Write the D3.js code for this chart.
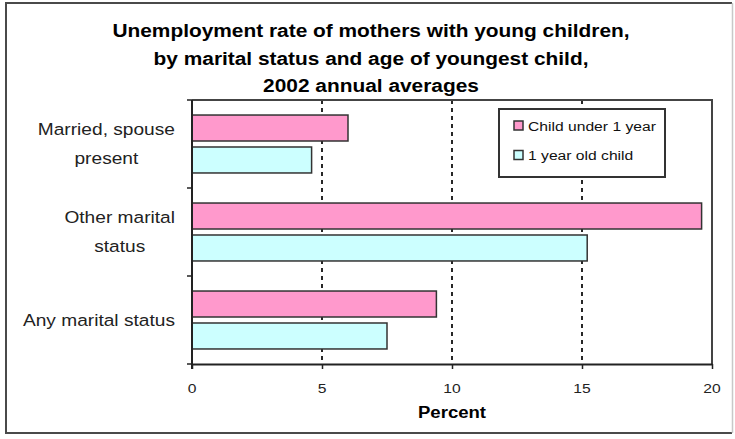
<!DOCTYPE html>
<html>
<head>
<meta charset="utf-8">
<script src="https://cdn.jsdelivr.net/npm/d3@7"></script>
<style>
  html, body { margin: 0; padding: 0; background: #fff; }
  svg { display: block; }
  text { font-family: "Liberation Sans", Arial, sans-serif; }
</style>
</head>
<body>
<svg id="chart" width="735" height="439"></svg>
<script>
// Unemployment rate of mothers with young children, 2002 annual averages
const titleLines = [
  "Unemployment rate of mothers with young children,",
  "by marital status and age of youngest child,",
  "2002 annual averages"
];
const categories = [
  ["Married, spouse", "present"],
  ["Other marital", "status"],
  ["Any marital status"]
];
const seriesNames = ["Child under 1 year", "1 year old child"];
const underOne = [6.0, 19.6, 9.4];
const oneYearOld = [4.6, 15.2, 7.5];
const xTicks = [0, 5, 10, 15, 20];
const xTitle = "Percent";
const colors = ["#FF99CC", "#CCFFFF"];

const svg = d3.select("#chart");
const W = 735, H = 439;
const plot = { left: 192, right: 712, top: 100, bottom: 364 };
const stretch = 1.16; // horizontal text stretch used throughout

// outer frame
svg.append("rect").attr("x", 0).attr("y", 0).attr("width", W).attr("height", H).attr("fill", "#fff");
svg.append("path")
  .attr("d", `M732,3 H6 V433 H732`)
  .attr("fill", "none").attr("stroke", "#4a4a4a").attr("stroke-width", 2);
svg.append("line").attr("x1", 732.5).attr("x2", 732.5).attr("y1", 3).attr("y2", 433)
  .attr("stroke", "#c8c8c8").attr("stroke-width", 1.5);

// helper: stretched text anchored at (x, y)
function sText(g, x, y, str, opts) {
  return g.append("text")
    .attr("transform", `translate(${x},${y}) scale(${stretch},1)`)
    .attr("text-anchor", opts.anchor || "middle")
    .attr("font-size", opts.size)
    .attr("font-weight", opts.weight || "normal")
    .attr("fill", opts.fill || "#111")
    .text(str);
}

// title
titleLines.forEach((t, i) => {
  sText(svg, 371, 37 + i * 27.7, t, { size: 18, weight: "bold", fill: "#000" });
});

// scales
const x = d3.scaleLinear().domain([0, 20]).range([plot.left, plot.right]);
const y = d3.scaleBand().domain(d3.range(categories.length)).range([plot.top, plot.bottom]).padding(0);
const inner = d3.scaleBand().domain([0, 1]).range([0, y.bandwidth()]).paddingInner(0.1875).paddingOuter(0.47);

// dashed gridlines
svg.append("g").selectAll("line")
  .data(xTicks.filter(d => d > 0 && d < 20))
  .join("line")
  .attr("x1", d => x(d)).attr("x2", d => x(d))
  .attr("y1", plot.top).attr("y2", plot.bottom)
  .attr("stroke", "#111").attr("stroke-width", 1.8)
  .attr("stroke-dasharray", "4,4");

// plot border (top and right)
svg.append("path")
  .attr("d", `M${plot.left},${plot.top} H${plot.right} V${plot.bottom}`)
  .attr("fill", "none").attr("stroke", "#444").attr("stroke-width", 2);

// bars
const series = [underOne, oneYearOld];
series.forEach((vals, s) => {
  svg.append("g").selectAll("rect")
    .data(vals)
    .join("rect")
    .attr("x", x(0))
    .attr("y", (d, i) => y(i) + inner(s))
    .attr("width", d => x(d) - x(0))
    .attr("height", inner.bandwidth())
    .attr("fill", colors[s])
    .attr("stroke", "#333").attr("stroke-width", 1.5);
});

// x axis
const xAxis = svg.append("g")
  .attr("transform", `translate(0,${plot.bottom})`)
  .call(d3.axisBottom(x).tickValues(xTicks).tickSize(5).tickSizeOuter(0).tickFormat(d3.format("d")));
xAxis.select(".domain").attr("stroke", "#222").attr("stroke-width", 2);
xAxis.selectAll(".tick line").attr("stroke", "#222").attr("stroke-width", 1.5);
xAxis.selectAll(".tick text").remove();
xTicks.forEach(t => sText(svg, x(t), 393, String(t), { size: 13.5, fill: "#222" }));

// y axis (category boundary ticks)
const yAxis = svg.append("g").attr("transform", `translate(${plot.left},0)`);
yAxis.append("line").attr("x1", 0).attr("x2", 0).attr("y1", plot.top).attr("y2", plot.bottom + 5)
  .attr("stroke", "#222").attr("stroke-width", 2);
yAxis.selectAll(".bt")
  .data(d3.range(categories.length + 1))
  .join("line")
  .attr("x1", -5).attr("x2", 0)
  .attr("y1", d => plot.top + d * y.step()).attr("y2", d => plot.top + d * y.step())
  .attr("stroke", "#222").attr("stroke-width", 1.5);

// category labels: block right-aligned at 175, lines centred within the block
const labelSize = 16.5, lineGap = 29, labelRight = 175;
categories.forEach((lines, i) => {
  const cy = y(i) + y.bandwidth() / 2;
  const g = svg.append("g");
  const tmp = lines.map(l => g.append("text").attr("font-size", labelSize).text(l));
  const maxW = d3.max(tmp, t => t.node().getComputedTextLength()) * stretch;
  tmp.forEach(t => t.remove());
  const cx = labelRight - maxW / 2;
  lines.forEach((l, k) => {
    const yy = cy + (k - (lines.length - 1) / 2) * lineGap + labelSize * 0.36;
    sText(g, cx, yy, l, { size: labelSize, fill: "#222" });
  });
});

// x axis title
sText(svg, 452, 418, xTitle, { size: 16, weight: "bold", fill: "#000" });

// legend
const leg = svg.append("g");
leg.append("rect").attr("x", 499).attr("y", 109).attr("width", 166).attr("height", 68)
  .attr("fill", "#fff").attr("stroke", "#333").attr("stroke-width", 2);
seriesNames.forEach((name, i) => {
  const cy = 125.5 + i * 29.5;
  leg.append("rect").attr("x", 514).attr("y", cy - 4.5).attr("width", 9).attr("height", 9)
    .attr("fill", colors[i]).attr("stroke", "#333").attr("stroke-width", 1.5);
  sText(leg, 528, cy + 5, name, { size: 13.5, anchor: "start", fill: "#111" });
});
</script>
</body>
</html>
